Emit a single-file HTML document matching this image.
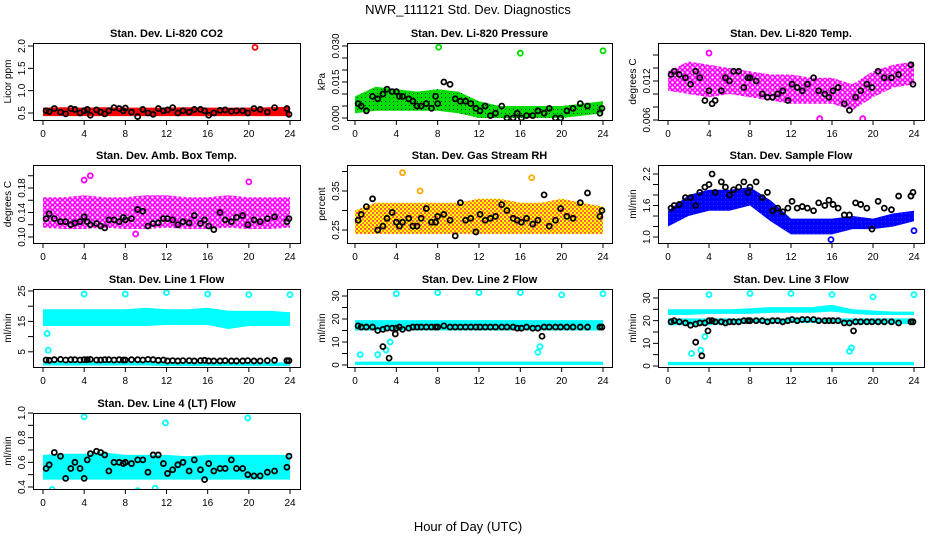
<!DOCTYPE html>
<html><head><meta charset="utf-8">
<style>
html,body{margin:0;padding:0;background:#fff;}
svg{display:block;font-family:"Liberation Sans",sans-serif;}
</style></head>
<body>
<svg id="chart" width="936" height="540" viewBox="0 0 936 540">
<defs>
<pattern id="pat-red" width="4" height="4" patternUnits="userSpaceOnUse"><rect width="4" height="4" fill="#f00"/><rect x="1" y="1" width="1" height="1" fill="#c00"/></pattern>
<pattern id="pat-green" width="4" height="4" patternUnits="userSpaceOnUse"><rect width="4" height="4" fill="#0d0"/><rect x="1" y="1" width="1" height="1" fill="#030"/></pattern>
<pattern id="pat-magenta" width="5" height="5" patternUnits="userSpaceOnUse"><rect width="5" height="5" fill="#fff"/><circle cx="2.5" cy="2.5" r="2" fill="none" stroke="#f0f" stroke-width="1.6"/></pattern>
<pattern id="pat-orange" width="4" height="4" patternUnits="userSpaceOnUse"><rect width="4" height="4" fill="#ff0"/><rect x="0" y="0" width="2" height="2" fill="#f55"/><rect x="2" y="2" width="2" height="2" fill="#f80"/></pattern>
<pattern id="pat-blue" width="4" height="4" patternUnits="userSpaceOnUse"><rect width="4" height="4" fill="#00f"/><rect x="1" y="1" width="1" height="1" fill="#33f"/></pattern>
<pattern id="pat-cyan" width="4" height="4" patternUnits="userSpaceOnUse"><rect width="4" height="4" fill="#0ff"/><rect x="1" y="1" width="1" height="1" fill="#2ee"/></pattern>
</defs>
<text x="468" y="14" text-anchor="middle" font-size="13">NWR_111121  Std. Dev. Diagnostics</text>
<text x="468" y="531" text-anchor="middle" font-size="13">Hour of Day (UTC)</text>
</svg>
<script>
// ---------- data ----------
const xTicks = [0, 4, 8, 12, 16, 20, 24];
const bandHours = [0, 2, 4, 6, 8, 10, 12, 14, 16, 18, 20, 22, 24];
const blackHours = [0.6, 1.1, 2.2, 3.1, 4.0, 4.6, 5.6, 6.4, 7.4, 8.0, 9.2, 10.2, 11.2, 12.1, 13.1, 14.2, 15.3, 16.1, 17.2, 18.3, 19.4, 20.5, 21.8, 23.7];
const blackHours2 = [0.3, 1.7, 2.7, 3.6, 4.3, 5.2, 6.0, 6.9, 7.8, 8.6, 9.7, 10.7, 11.7, 12.6, 13.6, 14.7, 15.7, 16.6, 17.7, 18.8, 19.9, 21.1, 22.5, 23.9];

// CO2
const co2Low = [0.43,0.43,0.43,0.43,0.43,0.43,0.43,0.43,0.43,0.43,0.43,0.43,0.43];
const co2High = [0.62,0.63,0.62,0.63,0.62,0.62,0.62,0.63,0.62,0.62,0.62,0.63,0.64];
const co2Black = [0.53,0.60,0.48,0.58,0.55,0.45,0.52,0.55,0.60,0.61,0.42,0.50,0.60,0.57,0.50,0.52,0.58,0.45,0.56,0.54,0.55,0.60,0.52,0.60];
const co2Black2 = [0.55,0.52,0.60,0.50,0.58,0.57,0.48,0.62,0.55,0.52,0.58,0.47,0.55,0.62,0.55,0.58,0.55,0.50,0.57,0.55,0.50,0.58,0.62,0.47];
const co2OutX = [20.6]; const co2OutY = [1.97];
// Pressure
const presLow = [0.002,0.003,0.003,0.003,0.003,0.002,0.000,0.000,0.000,0.000,0.000,0.001,0.002];
const presHigh = [0.009,0.013,0.012,0.011,0.012,0.011,0.007,0.005,0.005,0.005,0.005,0.006,0.007];
const presBlack = [0.005,0.003,0.008,0.012,0.011,0.009,0.007,0.005,0.004,0.006,0.014,0.007,0.006,0.003,0.001,0.005,0.000,0.000,0.001,0.002,0.000,0.003,0.006,0.002];
const presBlack2 = [0.006,0.009,0.010,0.011,0.009,0.008,0.005,0.006,0.009,0.015,0.008,0.007,0.004,0.005,0.002,0.000,0.002,0.001,0.003,0.004,0.000,0.004,0.005,0.004];
const presOutX = [8.1, 16.0, 24.0]; const presOutY = [0.0295, 0.027, 0.028];
// Li-820 Temp
const ltLow = [0.0105,0.010,0.0095,0.010,0.0095,0.009,0.0085,0.0085,0.0085,0.0075,0.0095,0.011,0.0115];
const ltHigh = [0.0135,0.015,0.0145,0.014,0.0135,0.013,0.013,0.0125,0.0125,0.0115,0.0135,0.0145,0.015];
const ltBlack = [0.0135,0.013,0.0115,0.0125,0.0105,0.009,0.0125,0.0135,0.011,0.0125,0.010,0.0095,0.0105,0.0115,0.0105,0.0125,0.010,0.0105,0.0085,0.0095,0.0115,0.0135,0.0125,0.0145];
const ltBlack2 = [0.013,0.0125,0.0135,0.009,0.0085,0.0105,0.012,0.0135,0.0125,0.012,0.0095,0.010,0.009,0.011,0.0115,0.0105,0.0095,0.011,0.0075,0.0105,0.011,0.0125,0.013,0.0115];
const ltOutX = [4.0, 14.8, 19.0]; const ltOutY = [0.0163, 0.0062, 0.0062];
// Amb box temp
const abLow = [0.115,0.113,0.113,0.115,0.113,0.113,0.115,0.113,0.113,0.115,0.113,0.113,0.115];
const abHigh = [0.165,0.165,0.168,0.165,0.165,0.168,0.168,0.165,0.165,0.168,0.165,0.165,0.165];
const abBlack = [0.138,0.130,0.125,0.123,0.133,0.120,0.118,0.128,0.125,0.128,0.145,0.118,0.123,0.130,0.120,0.123,0.122,0.118,0.140,0.125,0.135,0.128,0.130,0.125];
const abBlack2 = [0.130,0.125,0.120,0.125,0.125,0.122,0.115,0.128,0.132,0.130,0.142,0.122,0.130,0.128,0.125,0.135,0.128,0.112,0.128,0.132,0.120,0.125,0.133,0.130];
const abOutX = [4.6, 9.0, 4.0, 20.0]; const abOutY = [0.200, 0.105, 0.193, 0.190];
// Gas RH
const rhLow = [0.24,0.24,0.24,0.24,0.24,0.24,0.24,0.24,0.24,0.24,0.24,0.24,0.24];
const rhHigh = [0.30,0.32,0.32,0.32,0.32,0.32,0.33,0.33,0.32,0.32,0.33,0.32,0.31];
const rhBlack = [0.29,0.31,0.25,0.28,0.27,0.27,0.26,0.28,0.27,0.285,0.275,0.32,0.28,0.29,0.28,0.315,0.28,0.27,0.265,0.34,0.275,0.285,0.32,0.285];
const rhBlack2 = [0.275,0.33,0.26,0.295,0.26,0.28,0.26,0.305,0.27,0.29,0.235,0.275,0.245,0.275,0.285,0.30,0.275,0.28,0.275,0.26,0.305,0.28,0.345,0.30];
const rhOutX = [4.6, 17.1, 6.3]; const rhOutY = [0.397, 0.384, 0.35];
// Sample flow
const sfLow = [1.2,1.4,1.5,1.5,1.6,1.3,1.05,1.05,1.05,1.15,1.15,1.2,1.3];
const sfHigh = [1.5,1.8,1.9,1.9,1.95,1.7,1.35,1.35,1.35,1.4,1.35,1.45,1.5];
const sfBlack = [1.6,1.62,1.75,1.85,2.0,1.85,1.95,1.9,2.05,1.95,1.75,1.5,1.48,1.68,1.58,1.5,1.6,1.62,1.42,1.65,1.55,1.68,1.52,1.78];
const sfBlack2 = [1.55,1.75,1.6,1.95,2.2,2.05,1.8,1.95,1.85,2.05,1.85,1.55,1.55,1.55,1.55,1.65,1.7,1.55,1.42,1.62,1.15,1.55,1.78,1.85];
const sfOutX = [15.9, 24.0]; const sfOutY = [0.95, 1.12];
// Line 1
const l1LowA = [13.5,13.5,13.5,13.5,13.5,13.5,13.8,13.8,13.8,12.5,13.5,13.5,13.5];
const l1HighA = [19,19,19,19,19,19.5,19,19,19.5,18.5,18.5,18.5,18];
const l1LowB = [0.5,0.5,0.5,0.5,0.5,0.5,0.3,0.3,0.3,0.3,0.3,0.3,0.3];
const l1HighB = [1.8,1.8,1.8,1.8,1.8,1.8,1.5,1.5,1.5,1.5,1.5,1.5,1.5];
const l1Black = [2.2,2.4,2.3,2.4,2.4,2.5,2.3,2.4,2.4,2.3,2.4,2.5,2.2,2.0,2.0,2.1,2.1,2.0,2.0,2.0,2.0,2.0,2.1,2.1];
const l1Black2 = [2.3,2.5,2.4,2.3,2.4,2.3,2.4,2.3,2.3,2.4,2.3,2.4,2.3,2.1,2.1,2.0,2.2,2.0,2.1,2.0,2.1,2.0,2.2,2.1];
const l1OutX = [4,8,12,16,20,24,0.4,0.5]; const l1OutY = [24,24,24.5,24,23.8,23.8,11,5.5];
// Line 2
const l2LowA = [15,15,15,15,15,15,15,15,15,15,15,15,15];
const l2HighA = [19.5,19.5,19.5,19.5,19.5,19.5,19.5,19.5,19.5,19.5,19.5,19.5,19.5];
const l2LowB = [0,0,0,0,0,0,0,0,0,0,0,0,0];
const l2HighB = [1.5,1.5,1.5,1.5,1.5,1.5,1.5,1.5,1.5,1.5,1.5,1.5,1.5];
const l2Black = [16.5,16.5,15,16,16,15.5,16.5,16.5,16.5,16.5,16.5,16.5,16.5,16.5,16.5,16.5,16.5,16,16,16.5,16.5,16.5,16.5,16.5];
const l2Black2 = [17,16.5,15.5,16,16.5,16,16.5,16.5,16.5,17,16.5,16.5,16.5,16.5,16.5,16.5,16,16.5,16,16.5,16.5,16.5,16.5,16.5];
const l2OutX = [4,8,12,16,20,24,0.5,2.2,3.0,3.4,17.7,17.9]; const l2OutY = [31,31.5,31.5,31.5,30.5,31,4.5,4.5,6.5,10,5.5,8];
const l2BlackExtraX = [2.7, 3.3, 3.9, 18.1]; const l2BlackExtraY = [8, 3, 13.5, 12.5];
// Line 3
const l3LowA = [22.5,22.5,23,23,23,23.5,23.5,23.5,24,23,22.5,22.5,22.5];
const l3HighA = [25,25,25,25,25.5,26,26,26,27,25,24.5,24,24];
const l3LowC = [18,18,18,18.5,19,19,19,19,19,18.5,18.5,18.5,18.5];
const l3HighC = [21,21,21,21,21,21,21,21,21,21,21,21,21];
const l3LowB = [0.3,0.3,0.3,0.3,0.3,0.3,0.3,0.3,0.3,0.3,0.3,0.3,0.3];
const l3HighB = [1.8,1.8,1.8,1.8,1.8,1.8,1.8,1.8,1.8,1.8,1.8,1.8,1.8];
const l3Black = [20,19.5,18,19,20,19.5,19,19.5,20,20,20,20,19.5,20.5,20.5,20.5,20,20,19,19.5,19.5,19.5,19.5,19.5];
const l3Black2 = [19.5,19,18.5,19,20,19.5,19.5,19.5,20,20,19.5,20,20,20,20.5,20,20,20,19,19.5,19.5,19.5,19,19.5];
const l3OutX = [4,8,12,16,20,24,2.3,3.2,3.6,17.7,17.9]; const l3OutY = [31.5,32,32,31.5,30.5,31.5,5.5,7,13,6.5,8];
const l3BlackExtraX = [2.7, 3.3, 3.9, 18.1]; const l3BlackExtraY = [10.5, 4.5, 15.5, 15.5];
// Line 4
const l4Low = [0.46,0.46,0.46,0.46,0.46,0.46,0.46,0.46,0.46,0.46,0.46,0.46,0.46];
const l4High = [0.66,0.67,0.67,0.68,0.66,0.66,0.66,0.65,0.66,0.66,0.66,0.66,0.66];
const l4Black = [0.58,0.68,0.47,0.60,0.47,0.67,0.68,0.53,0.60,0.60,0.62,0.52,0.66,0.51,0.58,0.53,0.54,0.59,0.55,0.62,0.55,0.49,0.52,0.56];
const l4Black2 = [0.55,0.65,0.55,0.55,0.62,0.69,0.66,0.60,0.59,0.59,0.62,0.66,0.59,0.54,0.60,0.62,0.46,0.53,0.55,0.55,0.50,0.49,0.53,0.65];
const l4OutX = [4.0,11.9,19.9,0.9,9.2,10.9]; const l4OutY = [0.97,0.92,0.96,0.38,0.37,0.39];

// ---------- layout ----------
const svg = document.getElementById('chart');
const NS = 'http://www.w3.org/2000/svg';
function mk(tag, attrs, parent) {
  const e = document.createElementNS(NS, tag);
  for (const k in attrs) e.setAttribute(k, attrs[k]);
  (parent || svg).appendChild(e);
  return e;
}
const cols = [{l:33,r:300,x0:43,x24:290},{l:347,r:612,x0:355,x24:603},{l:658,r:924,x0:668,x24:914}];
const rows = [{t:43,b:120},{t:165,b:243},{t:289,b:367},{t:413,b:489}];

const panels = [
 {name:'co2',title:'Stan. Dev. Li-820 CO2',ylab:'Licor ppm',c:0,r:0,va:0.5,pa:113,vb:2.0,pb:46,ticks:[0.5,1.0,1.5,2.0],labels:['0.5','1.0','1.5','2.0'],
  bands:[[co2Low,co2High,'url(#pat-red)']],black:co2Black,black2:co2Black2,outX:co2OutX,outY:co2OutY,oc:'#f00'},
 {name:'pressure',title:'Stan. Dev. Li-820 Pressure',ylab:'kPa',c:1,r:0,va:0,pa:118,vb:0.03,pb:46,ticks:[0,0.005,0.01,0.015,0.02,0.025,0.03],labels:['0.000','','','0.015','','','0.030'],
  bands:[[presLow,presHigh,'url(#pat-green)']],black:presBlack,black2:presBlack2,outX:presOutX,outY:presOutY,oc:'#0d0'},
 {name:'li820-temp',title:'Stan. Dev. Li-820 Temp.',ylab:'degrees C',c:2,r:0,va:0.006,pa:120,vb:0.012,pb:81,ticks:[0.006,0.008,0.010,0.012,0.014,0.016],labels:['0.006','','','0.012','',''],
  bands:[[ltLow,ltHigh,'url(#pat-magenta)']],black:ltBlack,black2:ltBlack2,outX:ltOutX,outY:ltOutY,oc:'#f0f'},
 {name:'amb-box-temp',title:'Stan. Dev. Amb. Box Temp.',ylab:'degrees C',c:0,r:1,va:0.10,pa:237,vb:0.18,pb:188,ticks:[0.10,0.12,0.14,0.16,0.18,0.20],labels:['0.10','','0.14','','0.18',''],
  bands:[[abLow,abHigh,'url(#pat-magenta)']],black:abBlack,black2:abBlack2,outX:abOutX,outY:abOutY,oc:'#f0f'},
 {name:'gas-stream-rh',title:'Stan. Dev. Gas Stream RH',ylab:'percent',c:1,r:1,va:0.25,pa:230,vb:0.35,pb:191,ticks:[0.25,0.30,0.35,0.40],labels:['0.25','','0.35',''],
  bands:[[rhLow,rhHigh,'url(#pat-orange)']],black:rhBlack,black2:rhBlack2,outX:rhOutX,outY:rhOutY,oc:'#fa0'},
 {name:'sample-flow',title:'Stan. Dev. Sample Flow',ylab:'ml/min',c:2,r:1,va:1.0,pa:237,vb:2.2,pb:174,ticks:[1.0,1.2,1.4,1.6,1.8,2.0,2.2],labels:['1.0','','','1.6','','','2.2'],
  bands:[[sfLow,sfHigh,'url(#pat-blue)']],black:sfBlack,black2:sfBlack2,outX:sfOutX,outY:sfOutY,oc:'#00f'},
 {name:'line1-flow',title:'Stan. Dev. Line 1 Flow',ylab:'ml/min',c:0,r:2,va:0,pa:367,vb:25,pb:291,ticks:[5,10,15,20,25],labels:['5','','15','','25'],
  bands:[[l1LowA,l1HighA,'url(#pat-cyan)'],[l1LowB,l1HighB,'url(#pat-cyan)']],black:l1Black,black2:l1Black2,outX:l1OutX,outY:l1OutY,oc:'#0ff'},
 {name:'line2-flow',title:'Stan. Dev. Line 2 Flow',ylab:'ml/min',c:1,r:2,va:0,pa:365,vb:30,pb:296,ticks:[0,5,10,15,20,25,30],labels:['0','','10','','20','','30'],
  bands:[[l2LowA,l2HighA,'url(#pat-cyan)'],[l2LowB,l2HighB,'url(#pat-cyan)']],black:l2Black,black2:l2Black2,outX:l2OutX,outY:l2OutY,oc:'#0ff',bx:l2BlackExtraX,by:l2BlackExtraY},
 {name:'line3-flow',title:'Stan. Dev. Line 3 Flow',ylab:'ml/min',c:2,r:2,va:0,pa:366,vb:30,pb:298,ticks:[0,5,10,15,20,25,30],labels:['0','','10','','20','','30'],
  bands:[[l3LowA,l3HighA,'url(#pat-cyan)'],[l3LowC,l3HighC,'url(#pat-cyan)'],[l3LowB,l3HighB,'url(#pat-cyan)']],black:l3Black,black2:l3Black2,outX:l3OutX,outY:l3OutY,oc:'#0ff',bx:l3BlackExtraX,by:l3BlackExtraY},
 {name:'line4-flow',title:'Stan. Dev. Line 4 (LT) Flow',ylab:'ml/min',c:0,r:3,va:0.4,pa:487,vb:1.0,pb:413,ticks:[0.4,0.5,0.6,0.7,0.8,0.9,1.0],labels:['0.4','','0.6','','0.8','','1.0'],
  bands:[[l4Low,l4High,'url(#pat-cyan)']],black:l4Black,black2:l4Black2,outX:l4OutX,outY:l4OutY,oc:'#0ff'}
];

panels.forEach(p => {
  const C = cols[p.c], R = rows[p.r];
  const xs = h => C.x0 + (C.x24 - C.x0) * h / 24;
  const ys = v => p.pa + (p.pb - p.pa) * (v - p.va) / (p.vb - p.va);
  const g = mk('g', {});
  
  
  const clipId = 'clip-' + p.name;
  const cp = mk('clipPath', {id: clipId}, g);
  mk('rect', {x: C.l, y: R.t, width: C.r - C.l, height: R.b - R.t}, cp);
  const plot = mk('g', {'clip-path': 'url(#' + clipId + ')'}, g);
  p.bands.forEach((b, bi) => {
    let d = '';
    bandHours.forEach((h, i) => { d += (i ? 'L' : 'M') + xs(h).toFixed(1) + ' ' + ys(b[1][i]).toFixed(1); });
    for (let i = bandHours.length - 1; i >= 0; i--) d += 'L' + xs(bandHours[i]).toFixed(1) + ' ' + ys(b[0][i]).toFixed(1);
    const path = mk('path', {d: d + 'Z', fill: b[2]}, plot);
    
    
  });
  p.outX.forEach((h, i) => {
    const c = mk('circle', {cx: xs(h), cy: ys(p.outY[i]), r: 2.5, fill: 'none', stroke: p.oc, 'stroke-width': 1.8}, plot);
    
    
  });
  const bx = blackHours.concat(blackHours2, p.bx || []);
  const by = p.black.concat(p.black2, p.by || []);
  bx.forEach((h, i) => {
    const c = mk('circle', {cx: xs(h), cy: ys(by[i]), r: 2.5, fill: 'none', stroke: '#000', 'stroke-width': 1.8}, plot);
    
    
  });
  const box = mk('rect', {x: C.l + 0.5, y: R.t + 0.5, width: C.r - C.l, height: R.b - R.t, fill: 'none', stroke: '#000', 'stroke-width': 1}, g);
  
  
  const xa = mk('g', {}, g);
  
  
  xTicks.forEach(t => {
    mk('line', {x1: xs(t), x2: xs(t), y1: R.b, y2: R.b + 5, stroke: '#000'}, xa);
    const tx = mk('text', {x: xs(t), y: R.b + 17, 'font-size': 10, 'text-anchor': 'middle'}, xa);
    tx.textContent = t;
  });
  const ya = mk('g', {}, g);
  
  
  p.ticks.forEach((t, i) => {
    const y = ys(t);
    mk('line', {x1: C.l - 5, x2: C.l, y1: y, y2: y, stroke: '#000'}, ya);
    if (p.labels[i]) {
      const lx = C.l - 8;
      const tx = mk('text', {x: lx, y: y, 'font-size': 10, 'text-anchor': 'middle', transform: 'rotate(-90 ' + lx + ' ' + y + ')'}, ya);
      tx.textContent = p.labels[i];
    }
  });
  const yl = C.l - 22, ym = (R.t + R.b) / 2;
  const ylab = mk('text', {x: yl, y: ym, 'font-size': 10, 'text-anchor': 'middle', transform: 'rotate(-90 ' + yl + ' ' + ym + ')'}, g);
  ylab.textContent = p.ylab;
  
  
  const tt = mk('text', {x: (C.l + C.r) / 2, y: R.t - 6, 'font-size': 11, 'font-weight': 'bold', 'text-anchor': 'middle'}, g);
  tt.textContent = p.title;
  
  
});
</script>
</body></html>
